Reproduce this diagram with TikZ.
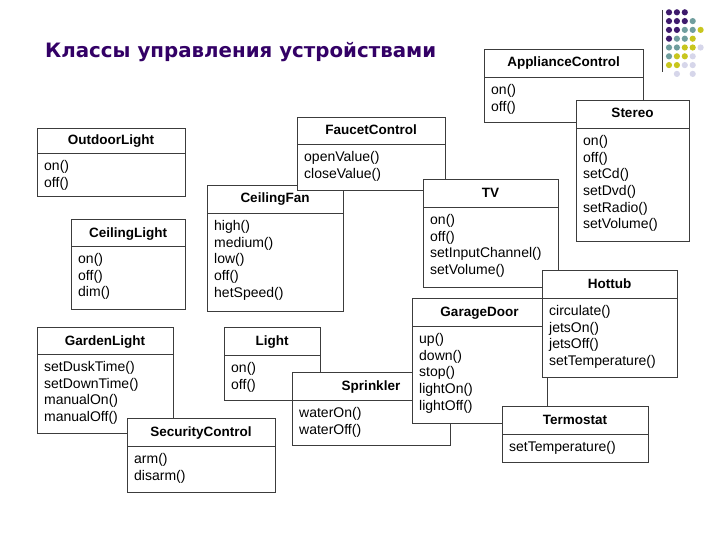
\documentclass[tikz,border=0pt]{standalone}
\usepackage{fontspec}
\setmainfont{Liberation Sans}
\newfontfamily\titlefont{DejaVu Sans}
\definecolor{titlePurple}{RGB}{51,0,102}
\definecolor{dotPurple}{RGB}{62,26,108}
\definecolor{dotTeal}{RGB}{112,158,158}
\definecolor{dotYellow}{RGB}{200,198,30}
\definecolor{dotLav}{RGB}{214,214,234}
\definecolor{boxLine}{RGB}{60,60,60}
\begin{document}
\begin{tikzpicture}[x=1pt, y=-1pt,
    box/.style={draw=boxLine, fill=white, line width=0.9pt},
    sep/.style={draw=boxLine, line width=0.9pt},
    head/.style={anchor=base, inner sep=0pt, font=\bfseries\fontsize{13.5}{16}\selectfont},
    meth/.style={anchor=north west, align=left, inner sep=0pt, font=\fontsize{14}{16.7}\selectfont}]
  \useasboundingbox[fill=white] (0,0) rectangle (720,540);
  % заголовок и точки
  \node[anchor=base west, inner sep=0pt, text=titlePurple,
        font=\titlefont\bfseries\fontsize{19.8}{24}\selectfont] (title) at (45,58) {Классы управления устройствами};
  \draw[boxLine, line width=0.9pt] (662,10) -- (662,72);
  \foreach \c/\r in {0/0,1/0,2/0,0/1,1/1,2/1,0/2,1/2,0/3}
    \fill[dotPurple] (669+7.9*\c,12.3+8.8*\r) circle (3.1);
  \foreach \c/\r in {3/1,2/2,3/2,1/3,2/3,0/4,1/4,0/5}
    \fill[dotTeal] (669+7.9*\c,12.3+8.8*\r) circle (3.1);
  \foreach \c/\r in {4/2,3/3,2/4,3/4,1/5,2/5,0/6,1/6}
    \fill[dotYellow] (669+7.9*\c,12.3+8.8*\r) circle (3.1);
  \foreach \c/\r in {4/4,3/5,2/6,3/6,1/7,3/7}
    \fill[dotLav] (669+7.9*\c,12.3+8.8*\r) circle (3.1);
  % ApplianceControl
  \draw[box] (484,49) rectangle (643,122);
  \draw[sep] (484,77) -- (643,77);
  \node[head] (acT) at (563.5,67) {ApplianceControl};
  \node[meth] (acM) at (491,84) {on()\\off()};
  % Stereo
  \draw[box] (576,100) rectangle (689,241);
  \draw[sep] (576,128) -- (689,128);
  \node[head] (stT) at (632.5,118) {Stereo};
  \node[meth] (stM) at (583,135) {on()\\off()\\setCd()\\setDvd()\\setRadio()\\setVolume()};
  % OutdoorLight
  \draw[box] (37,128) rectangle (185,196);
  \draw[sep] (37,153) -- (185,153);
  \node[head] (odT) at (111,145) {OutdoorLight};
  \node[meth] (odM) at (44,160) {on()\\off()};
  % CeilingFan
  \draw[box] (207,185) rectangle (343,311);
  \draw[sep] (207,213) -- (343,213);
  \node[head] (cfT) at (275,203) {CeilingFan};
  \node[meth] (cfM) at (214,220) {high()\\medium()\\low()\\off()\\hetSpeed()};
  % FaucetControl
  \draw[box] (297,117) rectangle (445,190);
  \draw[sep] (297,144) -- (445,144);
  \node[head] (fcT) at (371,135) {FaucetControl};
  \node[meth] (fcM) at (304,151) {openValue()\\closeValue()};
  % TV
  \draw[box] (423,179) rectangle (558,287);
  \draw[sep] (423,207) -- (558,207);
  \node[head] (tvT) at (490.5,197) {TV};
  \node[meth] (tvM) at (430,214) {on()\\off()\\setInputChannel()\\setVolume()};
  % CeilingLight
  \draw[box] (71,219) rectangle (185,309);
  \draw[sep] (71,246) -- (185,246);
  \node[head] (clT) at (128,237) {CeilingLight};
  \node[meth] (clM) at (78,253) {on()\\off()\\dim()};
  % GardenLight
  \draw[box] (37,327) rectangle (173,433);
  \draw[sep] (37,354) -- (173,354);
  \node[head] (glT) at (105,345) {GardenLight};
  \node[meth] (glM) at (44,361) {setDuskTime()\\setDownTime()\\manualOn()\\manualOff()};
  % SecurityControl
  \draw[box] (127,418) rectangle (275,492);
  \draw[sep] (127,446) -- (275,446);
  \node[head] (scT) at (201,436) {SecurityControl};
  \node[meth] (scM) at (134,453) {arm()\\disarm()};
  % Light
  \draw[box] (224,327) rectangle (320,400);
  \draw[sep] (224,355) -- (320,355);
  \node[head] (liT) at (272,345) {Light};
  \node[meth] (liM) at (231,362) {on()\\off()};
  % Sprinkler
  \draw[box] (292,372) rectangle (450,445);
  \draw[sep] (292,400) -- (450,400);
  \node[head] (spT) at (371,390) {Sprinkler};
  \node[meth] (spM) at (299,407) {waterOn()\\waterOff()};
  % GarageDoor
  \draw[box] (412,298) rectangle (547,423);
  \draw[sep] (412,326) -- (547,326);
  \node[head] (gdT) at (479.5,316) {GarageDoor};
  \node[meth] (gdM) at (419,333) {up()\\down()\\stop()\\lightOn()\\lightOff()};
  % Hottub
  \draw[box] (542,270) rectangle (677,377);
  \draw[sep] (542,298) -- (677,298);
  \node[head] (htT) at (609.5,288) {Hottub};
  \node[meth] (htM) at (549,305) {circulate()\\jetsOn()\\jetsOff()\\setTemperature()};
  % Termostat
  \draw[box] (502,406) rectangle (648,462);
  \draw[sep] (502,434) -- (648,434);
  \node[head] (teT) at (575,424) {Termostat};
  \node[meth] (teM) at (509,441) {setTemperature()};
\end{tikzpicture}
\end{document}
